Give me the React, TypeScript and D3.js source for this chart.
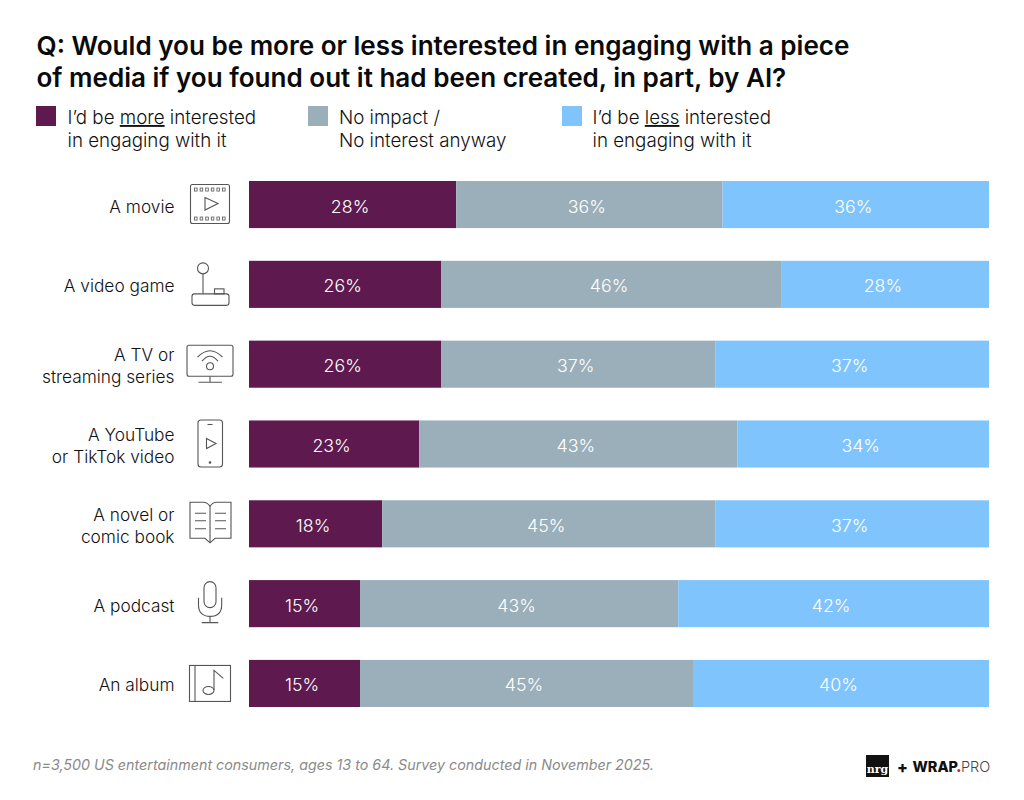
import * as d3 from 'd3';

const categories = ['A movie', 'A video game', 'A TV or|streaming series', 'A YouTube|or TikTok video', 'A novel or|comic book', 'A podcast', 'An album'];
const moreValues = [28, 26, 26, 23, 18, 15, 15];
const neutralValues = [36, 46, 37, 43, 45, 43, 45];
const lessValues = [36, 28, 37, 34, 37, 42, 40];
const seriesKeys = ['more', 'neutral', 'less'];
const seriesColors = ['#5e1a4f', '#9aafba', '#80c4fd'];
const titleLines = [
  'Q: Would you be more or less interested in engaging with a piece',
  'of media if you found out it had been created, in part, by AI?',
];
const footnote = 'n=3,500 US entertainment consumers, ages 13 to 64. Survey conducted in November 2025.';

const FONT = 'Inter, "Noto Sans", sans-serif';
const INK = '#111111';
const ICON = '#555555';

const rows = categories.map((name, i) => ({
  name,
  more: moreValues[i],
  neutral: neutralValues[i],
  less: lessValues[i],
}));

const stack = d3.stack<any>().keys(seriesKeys)(rows);
const x = d3.scaleLinear().domain([0, 100]).range([249, 989]);
const y = d3.scaleBand().domain(categories).range([181, 707]).paddingInner(0.41);

// line icons, each drawn around its row centre
function Icon({ index, cy }: { index: number; cy: number }) {
  const common = { fill: 'none', stroke: ICON, strokeWidth: 1.1 };
  const parts = [
    // film
    <g key="f" {...common}>
      <rect x={190.5} y={-20} width={39} height={39} rx={2} />
      {d3.range(6).map((k) => (
        <g key={k}>
          <rect x={194.5 + k * 5.6} y={-16.5} width={2.6} height={3} strokeWidth={0.8} />
          <rect x={194.5 + k * 5.6} y={12.5} width={2.6} height={3} strokeWidth={0.8} />
        </g>
      ))}
      <path d="M205 -7 L218 -1 L205 5.5 Z" />
    </g>,
    // joystick
    <g key="j" {...common}>
      <circle cx={203} cy={-16} r={5.5} />
      <path d="M203 -10.5 V9.5" />
      <rect x={192} y={9.5} width={37} height={11.5} rx={2.5} />
      <rect x={214.5} y={4.5} width={9.5} height={5} />
    </g>,
    // tv
    <g key="t" {...common}>
      <rect x={187} y={-19} width={46} height={31} rx={2} />
      <circle cx={210} cy={2} r={3.5} />
      <path d="M197.5 -7 Q210 -20 222.5 -7 M202 -3 Q210 -13 218 -3" />
      <path d="M210 12 V18 M198.5 18 H222" />
    </g>,
    // phone
    <g key="p" {...common}>
      <rect x={198} y={-24} width={24.5} height={47} rx={3} />
      <path d="M207.5 -19.5 H212.5" />
      <path d="M206.5 -5.5 L216 -0.5 L206.5 4.5 Z" />
      <circle cx={210} cy={18.5} r={0.8} fill={ICON} />
    </g>,
    // book
    <g key="b" {...common}>
      <path d="M210 -17 Q208 -21.5 203 -21.5 H190 V14.5 H205 L210 19 L215 14.5 H231 V-21.5 H217 Q212 -21.5 210 -17 V19" />
      <path d="M195 -10.5 H206 M195 -3 H206 M195 5 H206 M215 -10.5 H226 M215 -3 H226 M215 5 H226" />
    </g>,
    // microphone
    <g key="m" {...common}>
      <rect x={204} y={-22} width={12} height={26} rx={6} />
      <path d="M198.5 -6 V1 Q198.5 12.7 210 12.7 Q221.7 12.7 221.7 1 V-6" />
      <path d="M210 12.7 V19 M201.7 19 H218.3" />
    </g>,
    // album
    <g key="a" {...common}>
      <rect x={189.5} y={-18} width={41} height={36} />
      <path d="M195 -18 V18" />
      <ellipse cx={208.5} cy={7} rx={5.5} ry={4} />
      <path d="M214 6.5 V-13 L223.3 -5" />
    </g>,
  ];
  return <g transform={`translate(0,${cy})`}>{parts[index]}</g>;
}

function Legend() {
  const items = [
    { x: 36, tx: 67.5, l1: ['I’d be ', 'more', ' interested'], l2: 'in engaging with it', color: seriesColors[0] },
    { x: 308, tx: 339, l1: ['No impact /', '', ''], l2: 'No interest anyway', color: seriesColors[1] },
    { x: 562, tx: 592.5, l1: ['I’d be ', 'less', ' interested'], l2: 'in engaging with it', color: seriesColors[2] },
  ];
  return (
    <g>
      {items.map((d) => (
        <g key={d.x}>
          <rect x={d.x} y={106} width={20} height={20} fill={d.color} />
          <text x={d.tx} y={124} fontSize={18.75} fontWeight={350} fill={INK}>
            {d.l1[0]}
            <tspan textDecoration="underline">{d.l1[1]}</tspan>
            {d.l1[2]}
          </text>
          <text x={d.tx} y={147} fontSize={18.75} fontWeight={350} fill={INK}>{d.l2}</text>
        </g>
      ))}
    </g>
  );
}

export default function App() {
  return (
    <svg
      width={1024}
      height={800}
      style={{ position: 'absolute', left: 0, top: 0, background: '#fff' }}
      fontFamily={FONT}
    >
      {titleLines.map((t, i) => (
        <text key={t} x={36.5} y={55 + i * 32} fontSize={26.05} fontWeight={600} fill="#0a0a0a">{t}</text>
      ))}
      <Legend />

      {stack.map((series, si) => (
        <g key={series.key}>
          {series.map((d, i) => (
            <g key={i}>
              <rect
                x={x(d[0])}
                y={y(categories[i])}
                width={x(d[1]) - x(d[0])}
                height={y.bandwidth()}
                fill={seriesColors[si]}
              />
              <text
                x={(x(d[0]) + x(d[1])) / 2 - 2.5}
                y={y(categories[i])! + y.bandwidth() / 2 + 8}
                textAnchor="middle"
                fontSize={17.8}
                fontWeight={350}
                fill="#fff"
              >
                {d[1] - d[0]}%
              </text>
            </g>
          ))}
        </g>
      ))}

      {categories.map((c, i) => {
        const lines = c.split('|');
        const cy = y(c)! + y.bandwidth() / 2;
        return (
          <g key={c}>
            {lines.map((l, k) => (
              <text
                key={l}
                x={174.5}
                y={cy + 8 + (k - (lines.length - 1) / 2) * 21.5}
                textAnchor="end"
                fontSize={17.3}
                fontWeight={350}
                fill={INK}
              >
                {l}
              </text>
            ))}
            <Icon index={i} cy={cy} />
          </g>
        );
      })}

      <text x={33} y={770} fontSize={14.3} fontStyle="italic" fill="#8a8a8a">{footnote}</text>

      <rect x={866} y={755} width={23} height={22} fill="#111" />
      <text x={877.5} y={773} textAnchor="middle" fontSize={11} fontWeight={700} fontFamily="'DejaVu Serif', serif" fill="#fff">nrg</text>
      <text x={897} y={772.5} fontSize={16} fontWeight={800} fill="#111">+</text>
      <text x={912.5} y={772} fontSize={14.5} fontWeight={800} fill="#111">WRAP</text>
      <circle cx={958.8} cy={770.5} r={1.5} fill="#d8232a" />
      <text x={961} y={772} fontSize={14.5} fontWeight={300} fill="#444">PRO</text>
    </svg>
  );
}
